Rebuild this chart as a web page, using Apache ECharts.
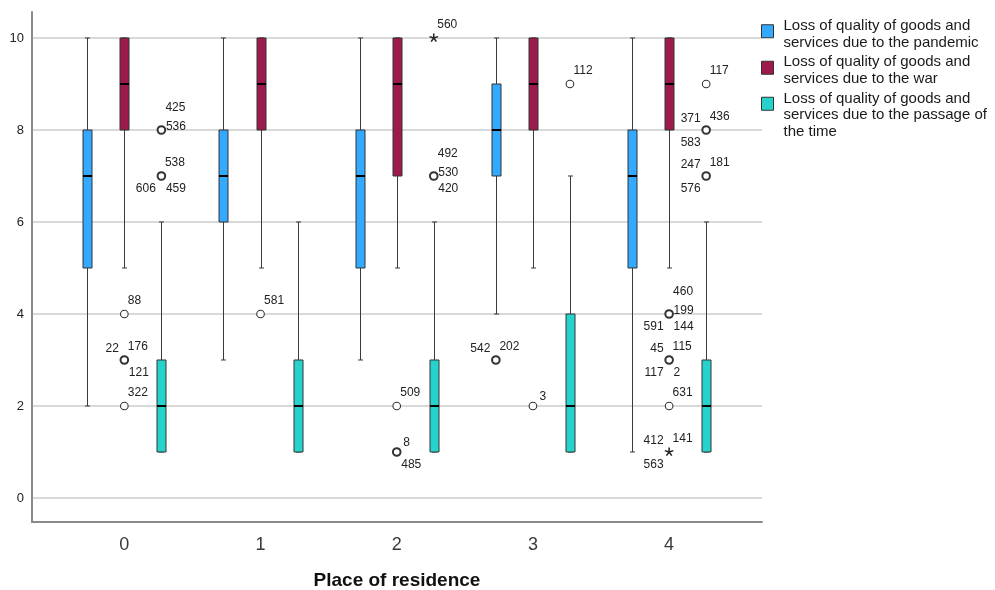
<!DOCTYPE html>
<html>
<head>
<meta charset="utf-8">
<script src="https://cdn.jsdelivr.net/npm/echarts@6/dist/echarts.min.js"></script>
<style>
html,body{margin:0;padding:0;background:#fff;}
#chart{width:995px;height:590px;}
</style>
</head>
<body>
<div id="chart"></div>
<script>
// ---------- data ----------
const categories = [0, 1, 2, 3, 4];
const yTicks = [0, 2, 4, 6, 8, 10];
const seriesNames = [
  'Loss of quality of goods and services due to the pandemic',
  'Loss of quality of goods and services due to the war',
  'Loss of quality of goods and services due to the passage of the time'
];
const legendLines = [
  ['Loss of quality of goods and', 'services due to the pandemic'],
  ['Loss of quality of goods and', 'services due to the war'],
  ['Loss of quality of goods and', 'services due to the passage of', 'the time']
];
const xAxisTitle = 'Place of residence';

// [min, q1, median, q3, max] per category
const pandemicStats = [[2,5,7,8,10],[3,6,7,8,10],[3,5,7,8,10],[4,7,8,9,10],[1,5,7,8,10]];
const warStats      = [[5,8,9,10,10],[5,8,9,10,10],[5,7,9,10,10],[5,8,9,10,10],[5,8,9,10,10]];
const timeStats     = [[1,1,2,3,6],[1,1,2,3,6],[1,1,2,3,6],[1,1,2,4,7],[1,1,2,3,6]];

// outliers: [category, value, kind ('o' outlier, '*' extreme), case ids]
const pandemicOutliers = [[3,3,'o',['542','202']]];
const warOutliers = [
  [0,4,'o',['88']],[0,3,'o',['22','176','121']],[0,2,'o',['322']],
  [1,4,'o',['581']],
  [2,2,'o',['509']],[2,1,'o',['8','485']],
  [3,2,'o',['3']],
  [4,4,'o',['460','199','591','144']],[4,3,'o',['45','115','117','2']],[4,2,'o',['631']],[4,1,'*',['412','141','563']]
];
const timeOutliers = [
  [0,8,'o',['425','536']],[0,7,'o',['538','606','459']],
  [2,10,'*',['560']],[2,7,'o',['492','530','420']],
  [3,9,'o',['112']],
  [4,9,'o',['117']],[4,8,'o',['371','436','583']],[4,7,'o',['247','181','576']]
];

// ---------- label placement (layout only) ----------
const pandemicLabelPos = [['tl','tr']];
const warLabelPos = [['tr'],['tl','tr','br'],['tr'],['tr'],['tr'],['trc','br'],['trc'],['tr2','r','bl','br'],['tl','tr','bl','br'],['tr'],['tl','tr','bl']];
const timeLabelPos = [['tr2','r'],['tr','bl','br'],['tr'],['tr2','r','br'],['tr'],['tr'],['tl','tr','bl'],['tl','tr','bl']];
const posOffsets = {
  tr:  {dx: 3.5, dy: -13.5, align: 'left'},
  tr2: {dx: 4,   dy: -22.5, align: 'left'},
  r:   {dx: 4.5, dy: -3.5,  align: 'left'},
  br:  {dx: 4.5, dy: 12.7,  align: 'left'},
  trc: {dx: 6.5, dy: -9.5,  align: 'left'},
  tl:  {dx: -5.5, dy: -11.5, align: 'right'},
  bl:  {dx: -5.5, dy: 13,    align: 'right'}
};
// legend layout: [top, blank spacer above text]
const legendLayout = [[11.75, 6], [48.75, 5], [67.5, 23]];

// ---------- styles ----------
const colors = ['#33AAFF', '#9E1A4E', '#25D3CC'];
const groupOffsets = [-0.272, 0, 0.272];
const FONT = '"Liberation Sans", Arial, sans-serif';

function boxSeries(idx, stats) {
  const off = groupOffsets[idx];
  return {
    name: seriesNames[idx],
    type: 'custom',
    itemStyle: {color: colors[idx], borderColor: '#333', borderWidth: 1},
    encode: {x: 0, y: [1, 2, 3, 4, 5]},
    data: stats.map((s, i) => [categories[i], s[0], s[1], s[2], s[3], s[4]]),
    z: 2,
    renderItem: function (params, api) {
      const x = api.value(0) + off;
      const pMin = api.coord([x, api.value(1)]);
      const pQ1 = api.coord([x, api.value(2)]);
      const pMed = api.coord([x, api.value(3)]);
      const pQ3 = api.coord([x, api.value(4)]);
      const pMax = api.coord([x, api.value(5)]);
      const cx = Math.round(pMed[0]) + 0.5;
      const w = 9, cap = 2.5;
      const ws = {stroke: '#3a3a3a', lineWidth: 1};
      return {
        type: 'group',
        children: [
          {type: 'line', shape: {x1: cx, y1: pMax[1], x2: cx, y2: pQ3[1]}, style: ws},
          {type: 'line', shape: {x1: cx, y1: pQ1[1], x2: cx, y2: pMin[1]}, style: ws},
          {type: 'line', shape: {x1: cx - cap, y1: pMax[1], x2: cx + cap, y2: pMax[1]}, style: ws},
          {type: 'line', shape: {x1: cx - cap, y1: pMin[1], x2: cx + cap, y2: pMin[1]}, style: ws},
          {type: 'rect', shape: {x: cx - w / 2, y: pQ3[1], width: w, height: pQ1[1] - pQ3[1]},
           style: {fill: colors[idx], stroke: '#333', lineWidth: 1}},
          {type: 'line', shape: {x1: cx - w / 2, y1: pMed[1], x2: cx + w / 2, y2: pMed[1]},
           style: {stroke: '#000', lineWidth: 2}}
        ]
      };
    }
  };
}

function outlierSeries(idx, outs, labelPos) {
  const off = groupOffsets[idx];
  return {
    name: seriesNames[idx],
    type: 'custom',
    encode: {x: 0, y: 1},
    data: outs.map(o => [o[0], o[1]]),
    z: 3,
    silent: true,
    renderItem: function (params, api) {
      const o = outs[params.dataIndex];
      const pos = labelPos[params.dataIndex];
      const p = api.coord([api.value(0) + off, api.value(1)]);
      const cx = p[0], cy = p[1];
      const children = [];
      if (o[2] === '*') {
        for (let k = 0; k < 5; k++) {
          const a = (-90 + 72 * k) * Math.PI / 180;
          children.push({type: 'line', shape: {x1: cx, y1: cy, x2: cx + 4.5 * Math.cos(a), y2: cy + 4.5 * Math.sin(a)},
            style: {stroke: '#222', lineWidth: 1.5}});
        }
      } else {
        children.push({type: 'circle', shape: {cx: cx, cy: cy, r: 3.8},
          style: {fill: '#fff', stroke: '#333', lineWidth: o[3].length > 1 ? 2 : 1.1}});
      }
      o[3].forEach((id, j) => {
        const po = posOffsets[pos[j]];
        children.push({type: 'text', x: cx + po.dx, y: cy + po.dy,
          style: {text: id, fill: '#222', font: '12px ' + FONT, align: po.align, verticalAlign: 'middle'}});
      });
      return {type: 'group', children: children};
    }
  };
}

const legends = seriesNames.map((n, i) => ({
  orient: 'vertical',
  left: 761,
  top: legendLayout[i][0],
  padding: 0,
  itemWidth: 12,
  itemHeight: 13,
  icon: 'rect',
  data: [{name: n, itemStyle: {color: colors[i], borderColor: '#333', borderWidth: 1}}],
  formatter: name => '{s| }\n' + legendLines[seriesNames.indexOf(name)].map(l => '{t|' + l + '}').join('\n'),
  textStyle: {
    fontFamily: FONT, padding: [0, 0, 0, 5],
    rich: {
      s: {fontSize: 4, lineHeight: legendLayout[i][1], height: legendLayout[i][1]},
      t: {fontSize: 15, lineHeight: 16.5, color: '#1a1a1a', fontFamily: FONT}
    }
  },
  selectedMode: false
}));

const chart = echarts.init(document.getElementById('chart'), null, {renderer: 'canvas'});
chart.setOption({
  animation: false,
  backgroundColor: '#fff',
  textStyle: {fontFamily: FONT},
  grid: {left: 32, top: 12, right: 233, bottom: 68, containLabel: false, outerBoundsMode: 'none'},
  legend: legends,
  xAxis: {
    type: 'value',
    min: -0.678,
    max: 4.682,
    axisLine: {show: true, onZero: false, lineStyle: {color: '#8a8a8a', width: 2}},
    axisTick: {show: false, customValues: categories},
    splitLine: {show: false},
    axisLabel: {customValues: categories, fontSize: 18, color: '#3a3a3a', margin: 14, fontFamily: FONT},
    name: xAxisTitle,
    nameLocation: 'middle',
    nameGap: 49,
    nameTextStyle: {fontSize: 19, fontWeight: 'bold', color: '#111', fontFamily: FONT}
  },
  yAxis: {
    type: 'value',
    min: -0.522,
    max: 10.565,
    axisLine: {show: true, onZero: false, lineStyle: {color: '#8a8a8a', width: 2}},
    axisTick: {show: false, customValues: yTicks},
    axisLabel: {customValues: yTicks, fontSize: 13, color: '#222', margin: 8, fontFamily: FONT},
    splitLine: {show: true, lineStyle: {color: '#cdcdcd', width: 1.5}}
  },
  series: [
    boxSeries(0, pandemicStats),
    boxSeries(1, warStats),
    boxSeries(2, timeStats),
    outlierSeries(0, pandemicOutliers, pandemicLabelPos),
    outlierSeries(1, warOutliers, warLabelPos),
    outlierSeries(2, timeOutliers, timeLabelPos)
  ]
});
</script>
</body>
</html>
